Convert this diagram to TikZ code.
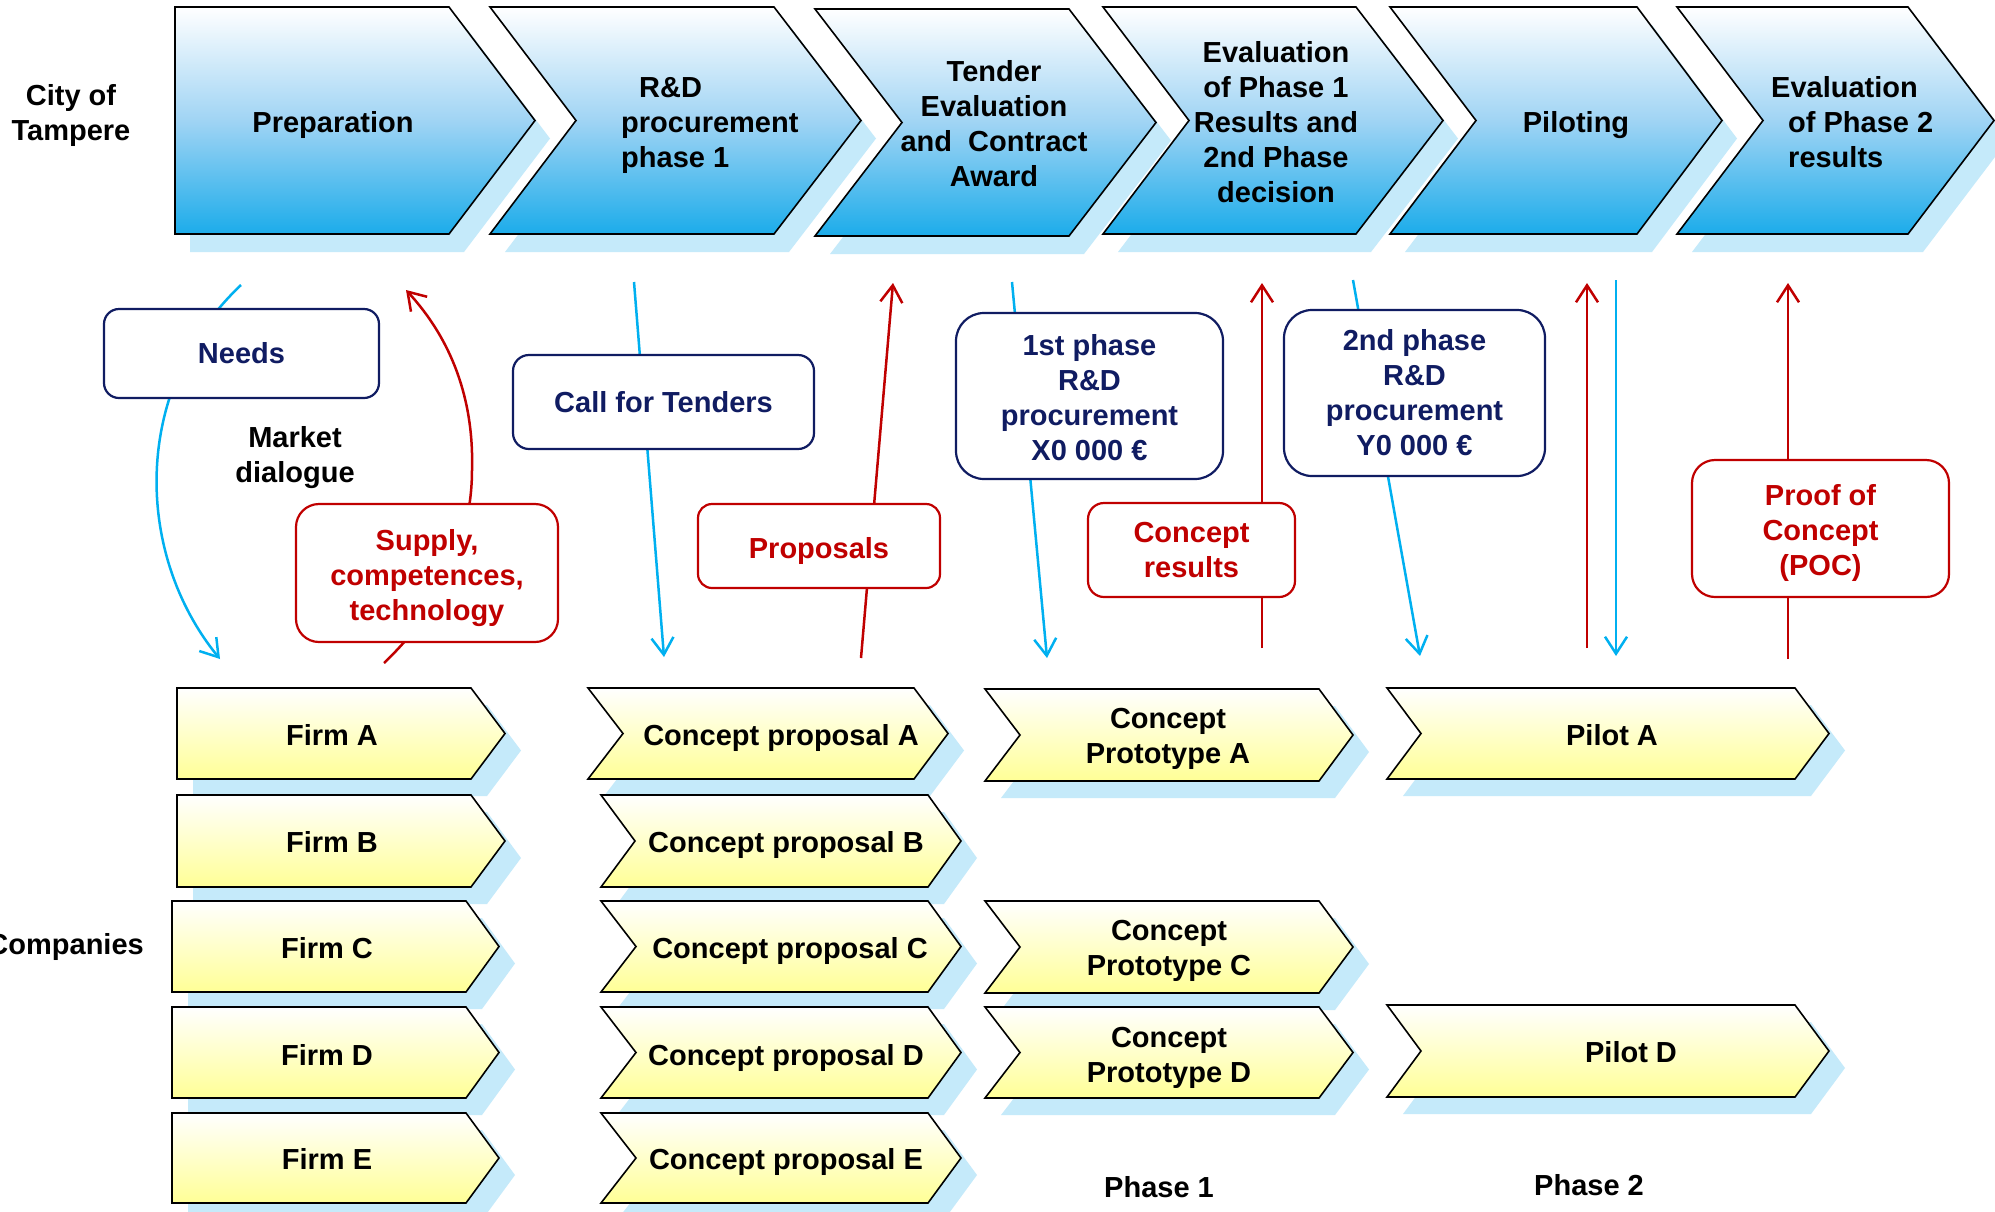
\documentclass[tikz,border=0pt]{standalone}
\usepackage{fontspec}
\setmainfont{Liberation Sans}
\usetikzlibrary{arrows.meta}
\definecolor{skyc}{RGB}{0,176,240}
\definecolor{chevblue}{RGB}{28,172,234}
\definecolor{chevmid}{RGB}{160,212,244}
\definecolor{shadowc}{RGB}{197,234,250}
\definecolor{yelc}{RGB}{255,255,150}
\definecolor{navyc}{RGB}{16,28,98}
\definecolor{redc}{RGB}{192,0,0}
\newcommand\mychev[7]{%
  \path[#1] (#2,#6) -- (#4,#6) -- ({#4+#5},{(#6+#7)/2}) -- (#4,#7) -- (#2,#7) -- ({#2+#3},{(#6+#7)/2}) -- cycle;}
\tikzset{
  topshadow/.style={fill=shadowc, shift={(15,18)}},
  botshadow/.style={fill=shadowc, shift={(16,17)}},
  topchev/.style={draw=black, line width=1.6pt, top color=white, bottom color=chevblue, middle color=chevmid},
  botchev/.style={draw=black, line width=1.6pt, top color=white, bottom color=yelc},
  txt/.style={inner sep=0pt, align=center, text=black},
  navybox/.style={draw=navyc, line width=2.2pt, fill=white, text=navyc, align=center, inner sep=0pt},
  redbox/.style={draw=redc, line width=2.2pt, fill=white, text=redc, align=center, inner sep=0pt},
  bluearrow/.style={draw=skyc, line width=2.5pt, -{Straight Barb[length=17pt,width=22pt]}},
  redarrow/.style={draw=redc, line width=2.5pt, -{Straight Barb[length=17pt,width=22pt]}}
}
\begin{document}
\begin{tikzpicture}[x=1pt,y=-1pt,font=\fontsize{29}{35}\selectfont\bfseries]
\useasboundingbox (0,0) rectangle (1995,1211);
\fill[white] (0,0) rectangle (1995,1211);
% ---------- shadows ----------
\mychev{topshadow}{175}{0}{449}{86}{7}{234}
\mychev{topshadow}{490}{86}{774}{87}{7}{234}
\mychev{topshadow}{815}{87}{1069}{87}{9}{236}
\mychev{topshadow}{1103}{86}{1356}{87}{7}{234}
\mychev{topshadow}{1390}{86}{1637}{85}{7}{234}
\mychev{topshadow}{1677}{86}{1908}{86}{7}{234}
\mychev{botshadow}{177}{0}{471}{34}{688}{779}
\mychev{botshadow}{177}{0}{471}{34}{795}{887}
\mychev{botshadow}{172}{0}{466}{33}{901}{992}
\mychev{botshadow}{172}{0}{466}{33}{1007}{1098}
\mychev{botshadow}{172}{0}{466}{33}{1113}{1203}
\mychev{botshadow}{588}{35}{914}{34}{688}{779}
\mychev{botshadow}{601}{34}{928}{33}{795}{887}
\mychev{botshadow}{601}{35}{928}{33}{901}{992}
\mychev{botshadow}{601}{35}{928}{33}{1007}{1098}
\mychev{botshadow}{601}{35}{928}{33}{1113}{1203}
\mychev{botshadow}{985}{35}{1319}{34}{689}{781}
\mychev{botshadow}{985}{35}{1319}{34}{901}{993}
\mychev{botshadow}{985}{35}{1319}{34}{1007}{1098}
\mychev{botshadow}{1387}{34}{1795}{34}{688}{779}
\mychev{botshadow}{1387}{34}{1795}{34}{1005}{1097}
% ---------- chevrons ----------
\mychev{topchev}{175}{0}{449}{86}{7}{234}
\mychev{topchev}{490}{86}{774}{87}{7}{234}
\mychev{topchev}{815}{87}{1069}{87}{9}{236}
\mychev{topchev}{1103}{86}{1356}{87}{7}{234}
\mychev{topchev}{1390}{86}{1637}{85}{7}{234}
\mychev{topchev}{1677}{86}{1908}{86}{7}{234}
\mychev{botchev}{177}{0}{471}{34}{688}{779}
\mychev{botchev}{177}{0}{471}{34}{795}{887}
\mychev{botchev}{172}{0}{466}{33}{901}{992}
\mychev{botchev}{172}{0}{466}{33}{1007}{1098}
\mychev{botchev}{172}{0}{466}{33}{1113}{1203}
\mychev{botchev}{588}{35}{914}{34}{688}{779}
\mychev{botchev}{601}{34}{928}{33}{795}{887}
\mychev{botchev}{601}{35}{928}{33}{901}{992}
\mychev{botchev}{601}{35}{928}{33}{1007}{1098}
\mychev{botchev}{601}{35}{928}{33}{1113}{1203}
\mychev{botchev}{985}{35}{1319}{34}{689}{781}
\mychev{botchev}{985}{35}{1319}{34}{901}{993}
\mychev{botchev}{985}{35}{1319}{34}{1007}{1098}
\mychev{botchev}{1387}{34}{1795}{34}{688}{779}
\mychev{botchev}{1387}{34}{1795}{34}{1005}{1097}
% ---------- top texts ----------
\node[txt] (city) at (71,115) {City of\\Tampere};
\node[txt] (prep) at (333,125) {Preparation};
\node[txt, align=left, anchor=west] (rd1) at (621,125) {\hspace*{18pt}R\&D\\procurement\\phase 1};
\node[txt] (tender) at (994,124) {Tender\\Evaluation\\and\ \ Contract\\Award};
\node[txt] (eval1) at (1276,122) {Evaluation\\of Phase 1\\Results and\\2nd Phase\\decision};
\node[txt] (pilot) at (1576,125) {Piloting};
\node[txt, align=left, anchor=west] (eval2) at (1771,122) {Evaluation\\\hspace*{17pt}of Phase 2\\\hspace*{17pt}results};
\node[txt, anchor=east] (comp) at (144,947) {Companies};
% ---------- connectors (free ends as coordinates) ----------
\coordinate (n1) at (241,285);   \coordinate (n2) at (220,659);
\coordinate (s1) at (384,663);   \coordinate (s2) at (406,290);
\coordinate (c1) at (634,282);   \coordinate (c2) at (664,657);
\coordinate (p1) at (861,658);   \coordinate (p2) at (893,283);
\coordinate (f1) at (1012,282);  \coordinate (f2) at (1047,658);
\coordinate (r1) at (1262,648);  \coordinate (r2) at (1262,283);
\coordinate (g1) at (1353,280);  \coordinate (g2) at (1420,656);
\coordinate (l1) at (1587,648);  \coordinate (l2) at (1587,283);
\coordinate (d1) at (1616,280);  \coordinate (d2) at (1616,656);
\coordinate (q1) at (1788,659);  \coordinate (q2) at (1788,283);
\draw[bluearrow] (n1) .. controls (130,390) and (135,555) .. (n2);
\draw[redarrow] (s1) .. controls (440,610) and (472,540) .. (472,470) .. controls (474,400) and (452,340) .. (s2);
\draw[bluearrow] (c1) -- (c2);
\draw[redarrow] (p1) -- (p2);
\draw[bluearrow] (f1) -- (f2);
\draw[redarrow] (r1) -- (r2);
\draw[bluearrow] (g1) -- (g2);
\draw[redarrow] (l1) -- (l2);
\draw[bluearrow] (d1) -- (d2);
\draw[redarrow] (q1) -- (q2);
% ---------- boxes ----------
\node[navybox, minimum width=275pt, minimum height=89pt, rounded corners=15pt] (needs) at (241.5,353.5) {Needs};
\node[txt] (market) at (295,458) {Market\\dialogue};
\node[navybox, minimum width=301pt, minimum height=94pt, rounded corners=16pt] (cft) at (663.5,402) {Call for Tenders};
\node[navybox, minimum width=267pt, minimum height=166pt, rounded corners=28pt] (ph1) at (1089.5,396) {\rule{0pt}{25pt}1st phase\\R\&D\\procurement\\X0 000 €};
\node[navybox, minimum width=261pt, minimum height=166pt, rounded corners=28pt] (ph2) at (1414.5,393) {2nd phase\\R\&D\\procurement\\Y0 000 €};
\node[redbox, minimum width=262pt, minimum height=138pt, rounded corners=23pt] (supply) at (427,573) {\rule{0pt}{32pt}Supply,\\competences,\\technology};
\node[redbox, minimum width=242pt, minimum height=84pt, rounded corners=14pt] (props) at (819,546) {\rule{0pt}{31pt}Proposals};
\node[redbox, minimum width=207pt, minimum height=94pt, rounded corners=16pt] (cres) at (1191.5,550) {Concept\\results};
\node[redbox, minimum width=257pt, minimum height=137pt, rounded corners=23pt] (poc) at (1820.5,528.5) {\rule{0pt}{29pt}Proof of\\Concept\\(POC)};
% ---------- bottom texts ----------
\node[txt] (fa) at (332,735) {Firm A};
\node[txt] (fb) at (332,842) {Firm B};
\node[txt] (fc) at (327,948) {Firm C};
\node[txt] (fd) at (327,1055) {Firm D};
\node[txt] (fe) at (327,1159) {Firm E};
\node[txt] (cpa) at (781,738) {Concept proposal A};
\node[txt] (cpb) at (786,845) {Concept proposal B};
\node[txt] (cpc) at (790,951) {Concept proposal C};
\node[txt] (cpd) at (786,1058) {Concept proposal D};
\node[txt] (cpe) at (786,1162) {Concept proposal E};
\node[txt] (pra) at (1168,739) {Concept\\Prototype A};
\node[txt] (prc) at (1169,951) {Concept\\Prototype C};
\node[txt] (prd) at (1169,1058) {Concept\\Prototype D};
\node[txt] (pla) at (1612,735) {Pilot A};
\node[txt] (pld) at (1631,1052) {Pilot D};
\node[txt] (phase1) at (1159,1187) {Phase 1};
\node[txt] (phase2) at (1589,1185) {Phase 2};
\end{tikzpicture}
\end{document}
